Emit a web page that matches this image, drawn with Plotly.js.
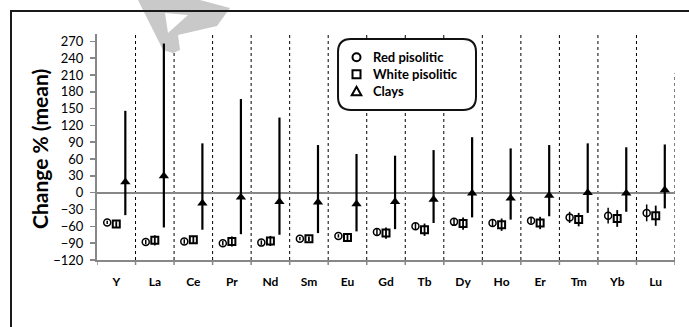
<!DOCTYPE html>
<html><head><meta charset="utf-8">
<script src="https://cdn.plot.ly/plotly-3.0.1.min.js"></script>
<style>
html,body{margin:0;padding:0;background:#fff;}
#wrap{position:relative;width:689px;height:327px;overflow:hidden;}
#plot{position:absolute;left:0;top:0;width:689px;height:327px;}
#frame{position:absolute;left:10px;top:10px;width:800px;height:500px;border-top:2px solid #1a1a1a;border-left:2px solid #1a1a1a;pointer-events:none;}
</style></head>
<body><div id="wrap"><div id="plot"></div><div id="frame"></div></div>
<script>
// ---- data ----
const categories = ['Y','La','Ce','Pr','Nd','Sm','Eu','Gd','Tb','Dy','Ho','Er','Tm','Yb','Lu'];
const redPisolitic = [-53,-88,-87,-90,-89,-82,-77,-70,-60,-52,-54,-50,-44,-41,-36];
const redErr = [3,4,4,4,4,3,3,6,6,6,7,5,10,14,15];
const whitePisolitic = [-56,-85,-84,-87,-86,-82,-80,-72,-66,-55,-57,-54,-48,-46,-41];
const whiteErr = [5,9,7,9,9,4,5,10,11,11,11,11,12,15,18];
const clays = [19,30,-19,-8,-16,-17,-20,-16,-12,-1,-10,-5,0,-1,5];
const claysPlus = [127,236,107,175,150,102,89,82,88,100,89,90,88,82,81];
const claysMinus = [59,92,47,66,59,55,49,49,42,43,38,37,36,33,33];
const yTicks = [-120,-90,-60,-30,0,30,60,90,120,150,180,210,240,270];
const seriesNames = ['Red pisolitic','White pisolitic','Clays'];
const yTitle = 'Change % (mean)';

// ---- layout helpers ----
const L=97, R=675, T=34, B=260;
const px = x => (x-L)/(R-L);
const py = y => (B-y)/(B-T);
const idx = categories.map((c,i)=>i);
const off = 0.235;
const FONT = 'Lato, "Open Sans", sans-serif';

const traces = [
  {x: idx.map(i=>i-off), y: redPisolitic, type:'scatter', mode:'markers', name:seriesNames[0],
   marker:{symbol:'circle-open', size:7, color:'#000', line:{width:1.5,color:'#000'}},
   error_y:{type:'data', array:redErr, visible:true, thickness:1.5, width:0, color:'#000'}},
  {x: idx, y: whitePisolitic, type:'scatter', mode:'markers', name:seriesNames[1],
   marker:{symbol:'square-open', size:7, color:'#000', line:{width:2,color:'#000'}},
   error_y:{type:'data', array:whiteErr, visible:true, thickness:1.8, width:0, color:'#000'}},
  {x: idx.map(i=>i+off), y: clays, type:'scatter', mode:'markers', name:seriesNames[2],
   marker:{symbol:'triangle-up', size:9, color:'#000'},
   error_y:{type:'data', symmetric:false, array:claysPlus, arrayminus:claysMinus, visible:true, thickness:2.2, width:0, color:'#000'}}
];

const shapes = [];
// category separators and boundary ticks
idx.forEach(i=>{
  const last = i===categories.length-1;
  shapes.push({type:'line', xref:'x', yref:last?'y':'paper', x0:i+0.5, x1:i+0.5,
    y0:last?-120:0, y1:last?213:1, line:{color:'#000', width:1, dash:'dot'}, layer:'below'});
});
[-0.5].concat(idx.map(i=>i+0.5)).forEach(b=>{
  shapes.push({type:'line', xref:'x', yref:'paper', x0:b, x1:b, y0:0, y1:-5/(B-T), line:{color:'#878787', width:1.5}});
});
// watermark
const wm = [[138,0],[200,0],[230,8],[217,26],[178,35],[180,50],[173,53],[163,50]];
const hole = [[165,13],[188,15],[168,33]];
const toPath = pts => 'M' + pts.map(p=>px(p[0]).toFixed(4)+','+py(p[1]).toFixed(4)).join(' L') + ' Z';
shapes.push({type:'path', xref:'paper', yref:'paper', path:toPath(wm), fillcolor:'#c9c9c9', line:{width:0}, layer:'below'});
shapes.push({type:'path', xref:'paper', yref:'paper', path:toPath(hole), fillcolor:'#ffffff', line:{width:0}, layer:'below'});
// legend rounded box
const legendRows = [57.3,74.3,91.3];
(function(){
  const x0=338,x1=476,y0=39,y1=110,r=13;
  const P=(x,y)=>px(x).toFixed(4)+','+py(y).toFixed(4);
  const path = 'M'+P(x0+r,y0)+' L'+P(x1-r,y0)+' Q'+P(x1,y0)+' '+P(x1,y0+r)+' L'+P(x1,y1-r)+' Q'+P(x1,y1)+' '+P(x1-r,y1)+
    ' L'+P(x0+r,y1)+' Q'+P(x0,y1)+' '+P(x0,y1-r)+' L'+P(x0,y0+r)+' Q'+P(x0,y0)+' '+P(x0+r,y0)+' Z';
  shapes.push({type:'path', xref:'paper', yref:'paper', path:path, fillcolor:'#ffffff', line:{width:2,color:'#111'}, layer:'above'});
  // legend symbols
  const sx=356.5, rows=legendRows, h=4;
  shapes.push({type:'circle', xref:'paper', yref:'paper', x0:px(sx-h), x1:px(sx+h), y0:py(rows[0]-h), y1:py(rows[0]+h), line:{width:2,color:'#000'}, layer:'above'});
  shapes.push({type:'rect', xref:'paper', yref:'paper', x0:px(sx-h), x1:px(sx+h), y0:py(rows[1]-h), y1:py(rows[1]+h), line:{width:2,color:'#000'}, layer:'above'});
  shapes.push({type:'path', xref:'paper', yref:'paper', path:'M'+P(sx-4.8,rows[2]+4)+' L'+P(sx+4.8,rows[2]+4)+' L'+P(sx,rows[2]-4.5)+' Z', line:{width:2,color:'#000'}, layer:'above'});
})();

const annotations = seriesNames.map((n,k)=>({text:n, xref:'paper', yref:'paper', x:px(372), y:py(legendRows[k]),
  xanchor:'left', yanchor:'middle', showarrow:false, borderpad:0, font:{family:FONT, size:13, weight:'bold', color:'#000'}}));
annotations.push({text:yTitle, xref:'paper', yref:'paper', x:px(39), y:py(149), xanchor:'center', yanchor:'middle',
  textangle:-90, showarrow:false, font:{family:FONT, size:21, weight:'bold', color:'#000'}});

const layout = {
  width:689, height:327,
  margin:{l:L, r:689-R, t:T, b:327-B},
  paper_bgcolor:'rgba(0,0,0,0)', plot_bgcolor:'rgba(0,0,0,0)',
  font:{family:FONT, color:'#000', size:13},
  showlegend:false,
  xaxis:{range:[-0.5,14.5], showline:true, linecolor:'#878787', linewidth:2, ticks:'', tickvals:idx, ticktext:categories,
    tickfont:{family:FONT, size:12, weight:'bold', color:'#000'}, ticklabelstandoff:10, showgrid:false, zeroline:false, fixedrange:true},
  yaxis:{range:[-120,283], tickvals:yTicks, showline:true, linecolor:'#878787', linewidth:2, ticks:'outside', ticklen:5,
    tickcolor:'#878787', tickwidth:1.5, showgrid:false, zeroline:true, zerolinecolor:'#878787', zerolinewidth:2,
    tickfont:{family:FONT, size:13, color:'#000'}, ticklabelstandoff:4},
  shapes:shapes, annotations:annotations
};
Plotly.newPlot('plot', traces, layout, {staticPlot:true, displayModeBar:false});
</script>
</body></html>
